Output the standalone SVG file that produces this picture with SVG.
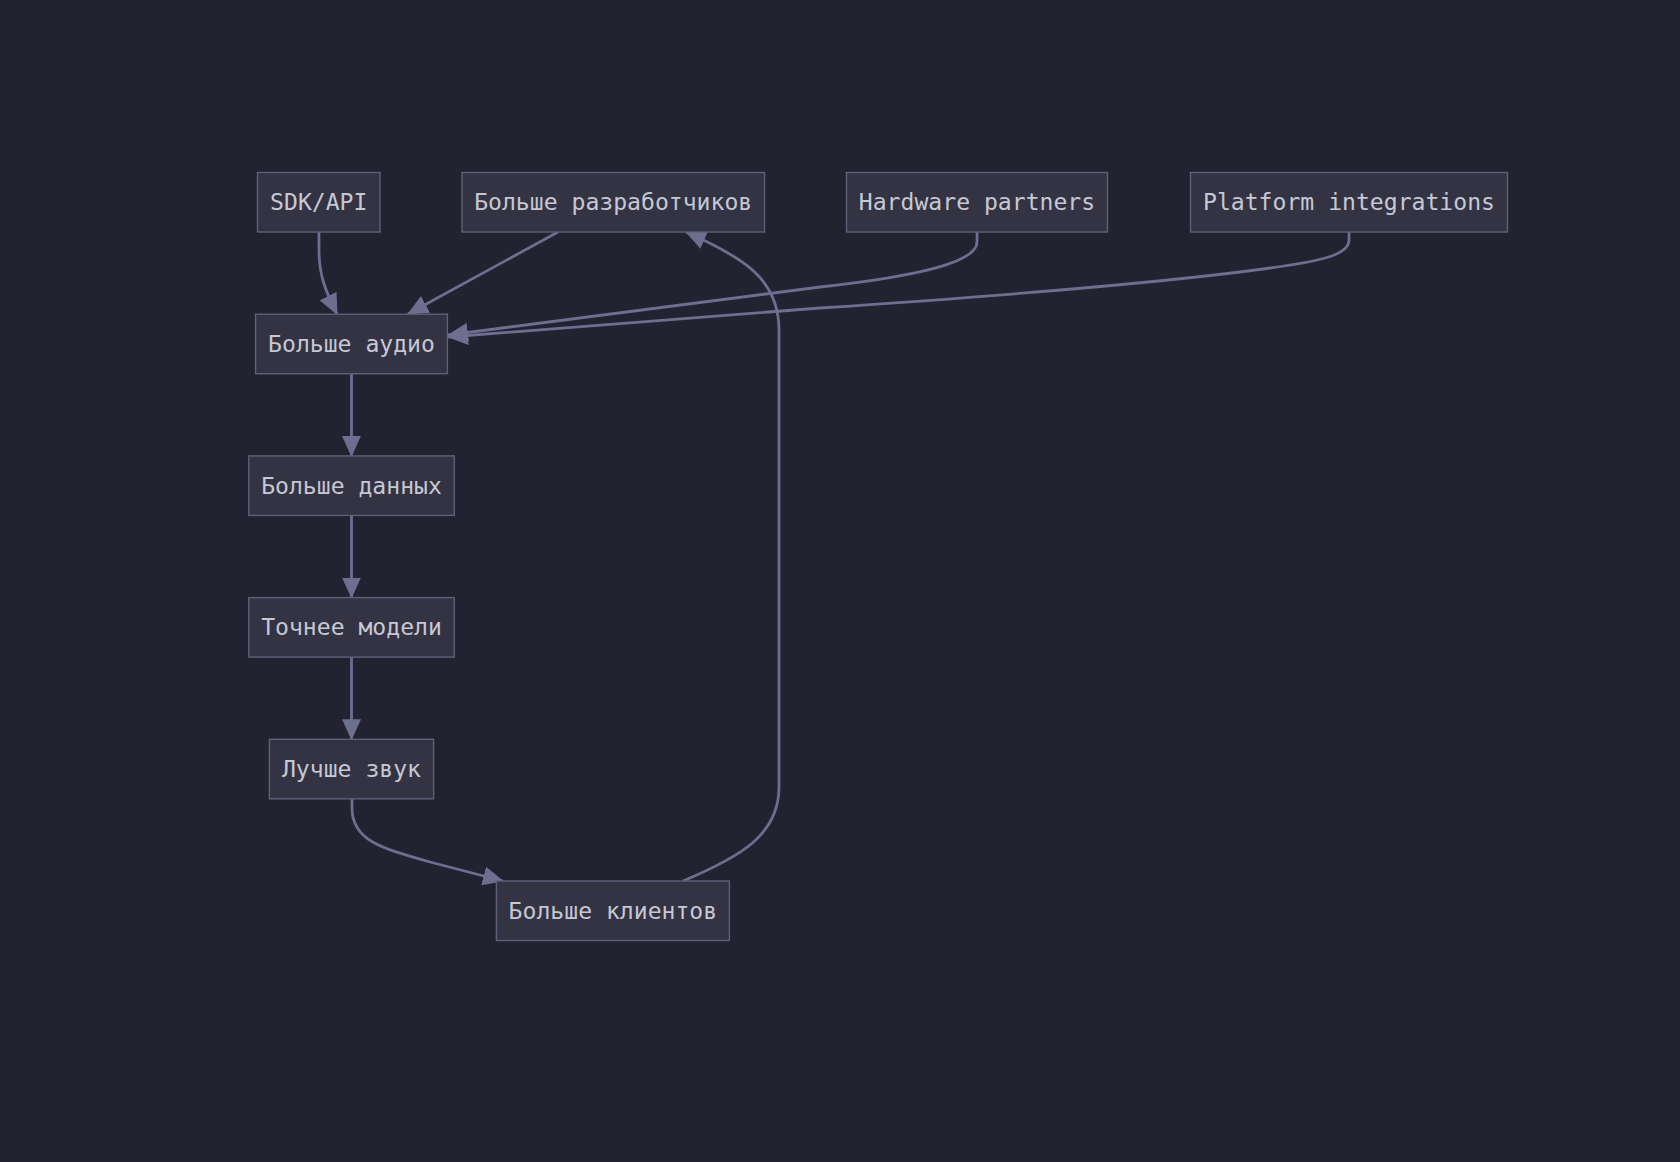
<svg xmlns="http://www.w3.org/2000/svg" width="1680" height="1162" viewBox="0 0 1680 1162">
<style>
.node rect{fill:#333343;stroke:#60607a;stroke-width:1.4}
.node text{font-family:"DejaVu Sans Mono","Liberation Mono",monospace;font-size:23.1px;fill:#c6c8d4;text-anchor:middle;dominant-baseline:central}
.edges path{fill:none;stroke:#6e6e8e;stroke-width:2.8}
</style>
<defs>
<marker id="arr" viewBox="0 0 21 19" refX="20" refY="9.5" markerUnits="userSpaceOnUse" markerWidth="21" markerHeight="19" orient="auto">
<path d="M0,0 L21,9.5 L0,19 z" fill="#6e6e8e"/>
</marker>
</defs>
<rect x="0" y="0" width="1680" height="1162" fill="#222230"/>
<g class="edges">
<path d="M319,232 L319,250 C319,276 326,292 337,314" marker-end="url(#arr)"/>
<path d="M558,232 L408,314" marker-end="url(#arr)"/>
<path d="M977,232 L977,242 C977,262 920,276 820,287 L448,335" marker-end="url(#arr)"/>
<path d="M1349,232 L1349,240 C1349,256 1320,262 1240,272 C1150,283 1000,296 820,308 L448,337" marker-end="url(#arr)"/>
<path d="M351.5,373.7 L351.5,455.9" marker-end="url(#arr)"/>
<path d="M351.5,515.4 L351.5,597.6" marker-end="url(#arr)"/>
<path d="M351.5,657.1 L351.5,739.3" marker-end="url(#arr)"/>
<path d="M352,798.8 L352,808 C352,840 380,848 430,862 L503,881" marker-end="url(#arr)"/>
<path d="M683,881 C740,857 779,835 779,787 L779,330 C779,280 745,258 686,232" marker-end="url(#arr)"/>
</g>
<g id="sdk" class="node"><rect x="257.5" y="172.5" width="122.5" height="59.5"/><text x="318.75" y="202.2">SDK/API</text></g>
<g id="devs" class="node"><rect x="462" y="172.5" width="302.5" height="59.5"/><text x="613.2" y="202.2">Больше разработчиков</text></g>
<g id="hw" class="node"><rect x="846.5" y="172.5" width="261" height="59.5"/><text x="977" y="202.2">Hardware partners</text></g>
<g id="platform" class="node"><rect x="1190.5" y="172.5" width="317" height="59.5"/><text x="1349" y="202.2">Platform integrations</text></g>
<g id="audio" class="node"><rect x="255.6" y="314.2" width="191.8" height="59.5"/><text x="351.5" y="343.9">Больше аудио</text></g>
<g id="data" class="node"><rect x="248.8" y="455.9" width="205.5" height="59.5"/><text x="351.5" y="485.6">Больше данных</text></g>
<g id="models" class="node"><rect x="248.8" y="597.6" width="205.5" height="59.5"/><text x="351.5" y="627.3">Точнее модели</text></g>
<g id="sound" class="node"><rect x="269.4" y="739.3" width="164.2" height="59.5"/><text x="351.5" y="769">Лучше звук</text></g>
<g id="clients" class="node"><rect x="496.4" y="881" width="233" height="59.5"/><text x="612.9" y="910.7">Больше клиентов</text></g>
</svg>
